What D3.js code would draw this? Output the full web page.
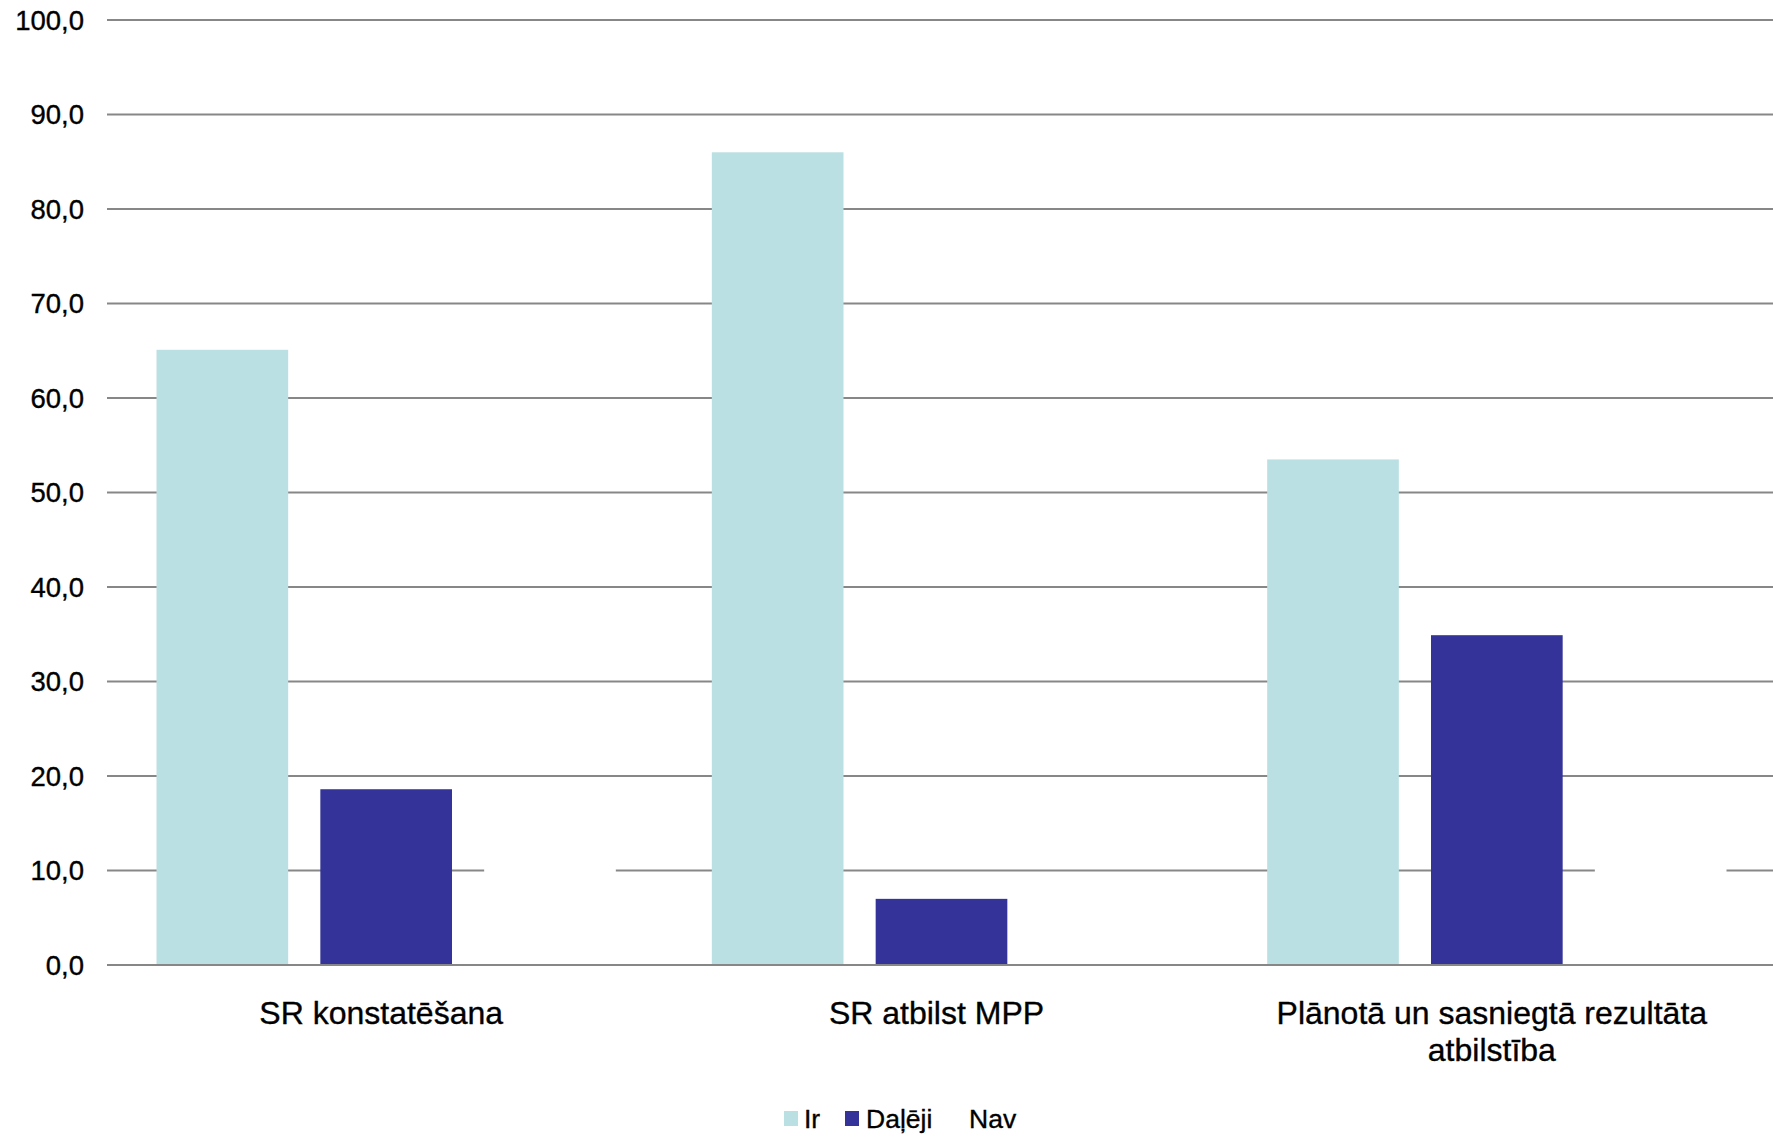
<!DOCTYPE html>
<html>
<head>
<meta charset="utf-8">
<script src="https://cdn.jsdelivr.net/npm/d3@7"></script>
<style>
  html, body { margin: 0; padding: 0; background: #ffffff; }
  svg { display: block; }
  text { font-family: "Liberation Sans", Arial, sans-serif; fill: #000; stroke: #000; stroke-width: 0.35px; }
</style>
</head>
<body>
<svg id="chart" width="1773" height="1137"></svg>
<script>
// Categories (multi-line labels split by "\n")
const categories = [
  "SR konstatēšana",
  "SR atbilst MPP",
  "Plānotā un sasniegtā rezultāta\natbilstība"
];
const seriesNames = ["Ir", "Daļēji", "Nav"];
const seriesColors = ["#bbe0e3", "#333399", "#ffffff"];

// Percent values per series, one entry per category
const irValues     = [65.1, 86.0, 53.5];
const dalejiValues = [18.6, 7.0, 34.9];
const navValues    = [16.3, 7.0, 11.6];

const yTicks = [0, 10, 20, 30, 40, 50, 60, 70, 80, 90, 100];

const series = [irValues, dalejiValues, navValues];

const svg = d3.select("#chart");
const plot = { left: 107, right: 1773, top: 20, bottom: 965 };

const x0 = d3.scaleBand()
  .domain(categories)
  .range([plot.left, plot.right])
  .paddingInner(0)
  .paddingOuter(0);

// Three bars with 32 px gaps inside each category band
const x1 = d3.scaleBand()
  .domain(seriesNames)
  .range([49.5, x0.bandwidth() - 46.5])
  .paddingInner(32 / 163)
  .paddingOuter(0);

const y = d3.scaleLinear().domain([0, 100]).range([plot.bottom, plot.top]);

// Gridlines
svg.append("g")
  .selectAll("line")
  .data(yTicks)
  .join("line")
  .attr("x1", plot.left)
  .attr("x2", plot.right)
  .attr("y1", d => y(d))
  .attr("y2", d => y(d))
  .attr("stroke", "#878787")
  .attr("stroke-width", 2.2);

// Y tick labels
svg.append("g")
  .selectAll("text")
  .data(yTicks)
  .join("text")
  .attr("x", 84)
  .attr("y", d => y(d))
  .attr("dy", "0.35em")
  .attr("text-anchor", "end")
  .style("font-size", "27.5px")
  .text(d => d3.format(".1f")(d).replace(".", ","));

// Bars
const groups = svg.append("g")
  .selectAll("g")
  .data(categories)
  .join("g")
  .attr("transform", d => `translate(${x0(d)},0)`);

groups.selectAll("rect")
  .data((c, ci) => seriesNames.map((s, si) => ({ s, si, v: series[si][ci] })))
  .join("rect")
  .attr("x", d => x1(d.s))
  .attr("width", x1.bandwidth())
  .attr("y", d => y(d.v))
  .attr("height", d => y(0) - y(d.v))
  .attr("fill", d => seriesColors[d.si]);

// Redraw zero baseline over bars
svg.append("line")
  .attr("x1", plot.left).attr("x2", plot.right)
  .attr("y1", y(0)).attr("y2", y(0))
  .attr("stroke", "#878787").attr("stroke-width", 2.2);

// Category labels
const catLabels = svg.append("g")
  .selectAll("text")
  .data(categories)
  .join("text")
  .attr("x", d => x0(d) + x0.bandwidth() / 2 - 3.5)
  .attr("y", 1024)
  .attr("text-anchor", "middle")
  .style("font-size", "32px");

catLabels.selectAll("tspan")
  .data(d => d.split("\n"))
  .join("tspan")
  .attr("x", function () { return d3.select(this.parentNode).attr("x"); })
  .attr("dy", (d, i) => i === 0 ? 0 : 37)
  .text(d => d);

// Legend
const legendItems = [
  { name: seriesNames[0], color: seriesColors[0], sx: 784, tx: 804 },
  { name: seriesNames[1], color: seriesColors[1], sx: 845, tx: 866 },
  { name: seriesNames[2], color: seriesColors[2], sx: 950, tx: 969 }
];
const legend = svg.append("g");
legend.selectAll("rect")
  .data(legendItems)
  .join("rect")
  .attr("x", d => d.sx)
  .attr("y", 1111)
  .attr("width", 14)
  .attr("height", 15)
  .attr("fill", d => d.color);
legend.selectAll("text")
  .data(legendItems)
  .join("text")
  .attr("x", d => d.tx)
  .attr("y", 1128)
  .style("font-size", "26.5px")
  .text(d => d.name);
</script>
</body>
</html>
